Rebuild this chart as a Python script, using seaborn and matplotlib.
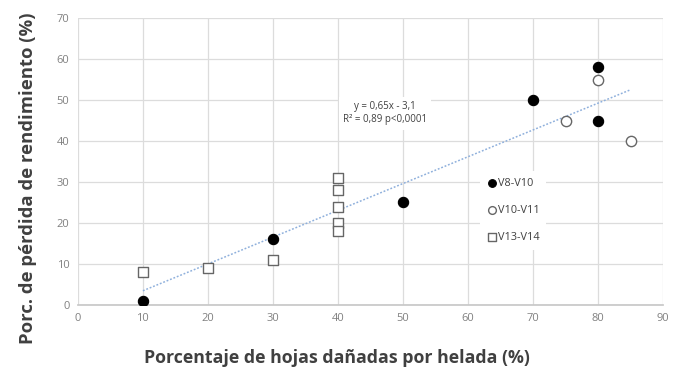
import matplotlib
matplotlib.use("Agg")
import matplotlib.pyplot as plt
import seaborn as sns
import pandas as pd

# Data
v8_x = [10, 30, 50, 70, 80, 80]
v8_y = [1, 16, 25, 50, 58, 45]
v10_x = [75, 80, 85]
v10_y = [45, 55, 40]
v13_x = [10, 20, 30, 40, 40, 40, 40, 40]
v13_y = [8, 9, 11, 31, 28, 24, 20, 18]
series_labels = ["V8-V10", "V10-V11", "V13-V14"]
eq_text = "y = 0,65x - 3,1\nR² = 0,89 p<0,0001"
x_label = "Porcentaje de hojas dañadas por helada (%)"
y_label = "Porc. de pérdida de rendimiento (%)"

sns.set_theme(style="white")
plt.rcParams['font.family'] = ['Open Sans', 'DejaVu Sans']

fig = plt.figure(figsize=(6.83, 3.70), dpi=100)
ax = fig.add_axes([0.114, 0.176, 0.857, 0.775])

all_df = pd.DataFrame({"x": v8_x + v10_x + v13_x, "y": v8_y + v10_y + v13_y})
sns.regplot(data=all_df, x="x", y="y", ax=ax, scatter=False, ci=None, truncate=True,
            line_kws=dict(color="#8fb0dc", linestyle=(0, (1.2, 1.2)), linewidth=1.1, zorder=2))

sns.scatterplot(x=v8_x, y=v8_y, ax=ax, marker="o", s=55, color="black",
                edgecolor="black", linewidth=0.8, label=series_labels[0], zorder=4)
sns.scatterplot(x=v10_x, y=v10_y, ax=ax, marker="o", s=55, facecolor="white",
                edgecolor="#666666", linewidth=1.0, label=series_labels[1], zorder=4)
sns.scatterplot(x=v13_x, y=v13_y, ax=ax, marker="s", s=60, facecolor="white",
                edgecolor="#666666", linewidth=1.0, label=series_labels[2], zorder=4)

ax.set_xlim(0, 90)
ax.set_ylim(0, 70)
ax.set_xticks(range(0, 91, 10))
ax.set_yticks(range(0, 71, 10))
ax.grid(True, color="#dcdcdc", linewidth=0.9, zorder=0)
ax.set_axisbelow(True)
for s in ["top", "right", "left"]:
    ax.spines[s].set_visible(False)
ax.spines["bottom"].set_color("#c8c8c8")
ax.tick_params(axis="both", length=0, labelsize=8, labelcolor="#808080", pad=6)

ax.set_xlabel(x_label, fontsize=12.8, fontweight="bold", color="#404040")
ax.set_ylabel(y_label, fontsize=13.3, fontweight="bold", color="#404040")
ax.xaxis.set_label_coords(0.443, -0.155)
ax.yaxis.set_label_coords(-0.070, 0.443)

ax.text(47.2, 46.8, eq_text, fontsize=7, color="#404040", ha="center", va="center",
        linespacing=1.3, bbox=dict(facecolor="white", edgecolor="none", pad=3), zorder=3)

leg = ax.legend(loc="center left", bbox_to_anchor=(0.678, 0.33), frameon=True,
                fontsize=7.8, labelspacing=1.5, handletextpad=0.05, markerscale=0.75,
                borderpad=0.6, handlelength=1.0)
leg.get_frame().set_facecolor("white")
leg.get_frame().set_edgecolor("none")
leg.get_frame().set_alpha(1)
for t in leg.get_texts():
    t.set_color("#404040")

fig.savefig("out.png", dpi=100)
